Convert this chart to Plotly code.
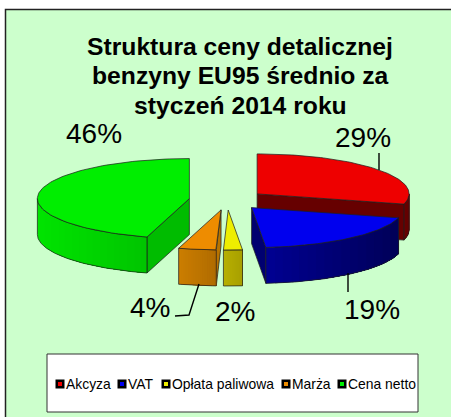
import numpy as np
import plotly.graph_objects as go

categories = ["Akcyza", "VAT", "Opłata paliwowa", "Marża", "Cena netto"]
values = [29.1, 19.4, 2.0, 4.0, 45.5]
top_colors = ["#EE0000", "#0000EE", "#EEEE00", "#EE8C00", "#00EE00"]
rim_left = [(0x66, 0, 0), (0, 0, 0x92), (0xB8, 0xB0, 0), (0xCC, 0x7E, 0), (0, 0xE4, 0)]
rim_right = [(0x66, 0, 0), (0, 0, 0x58), (0xA8, 0xA0, 0), (0xB0, 0x6C, 0), (0, 0xC4, 0)]
face_colors = ["#660000", "#000070", "#B0A800", "#B87400", "#00BC00"]
label_xy = [(362.5, 137.5), (372, 309), (235, 311), (150, 307), (93.5, 133)]
title_lines = ["Struktura ceny detalicznej", "benzyny EU95 średnio za", "styczeń 2014 roku"]
legend_x = [60, 122, 166, 286, 342]

CX, CY, RX, RY, EXPLODE, DEPTH = 227, 200, 152, 40, 0.25, 36
EDGE = "rgba(30,30,30,0.8)"

fig = go.Figure()


def point(ax, ay, deg):
    a = np.radians(deg)
    return ax + RX * np.sin(a), ay - RY * np.cos(a)


def poly(xs, ys, fill, line=EDGE, width=0.9):
    fig.add_trace(go.Scatter(
        x=list(xs) + [xs[0]], y=list(ys) + [ys[0]], mode="lines", fill="toself",
        fillcolor=fill, line=dict(color=line, width=width), hoverinfo="skip", showlegend=False))


total = sum(values)
edges = np.cumsum([0] + values) / total * 360
geom = []
for i in range(len(values)):
    start, end = edges[i], edges[i + 1]
    mid = np.radians((start + end) / 2)
    geom.append((CX + EXPLODE * RX * np.sin(mid), CY - EXPLODE * RY * np.cos(mid), start, end))

for i in [4, 0, 1, 3, 2]:
    ax, ay, start, end = geom[i]
    # radial side faces that look towards the viewer
    for ang, show in ((end, end <= 180), (start, start >= 180)):
        if show:
            px, py = point(ax, ay, ang)
            poly([ax, px, px, ax], [ay, py, py + DEPTH, ay + DEPTH], face_colors[i])
    # rim facing the viewer, shaded from left to right in strips with no seams
    lo, hi = max(start, 90), min(end, 270)
    if hi > lo:
        t = np.linspace(lo, hi, 121)
        rx, ry = point(ax, ay, t)
        xmin, xmax = rx.min(), rx.max()
        bands = 16
        for b in range(bands):
            # each band runs from its left limit to the right end, so later bands overpaint
            cut = xmin + (xmax - xmin) * b / bands
            keep = rx >= cut
            f = (b + 0.5) / bands
            c = [int(p + (q - p) * f) for p, q in zip(rim_left[i], rim_right[i])]
            col = f"rgb({c[0]},{c[1]},{c[2]})"
            sx, sy = rx[keep], ry[keep]
            if len(sx) > 1:
                poly(list(sx) + list(sx[::-1]), list(sy) + list(sy[::-1] + DEPTH), col,
                     line="rgba(0,0,0,0)", width=0)
        fig.add_trace(go.Scatter(
            x=list(rx) + list(rx[::-1]) + [rx[0]], y=list(ry) + list(ry[::-1] + DEPTH) + [ry[0]],
            mode="lines", line=dict(color=EDGE, width=0.9), hoverinfo="skip", showlegend=False))
    # top face
    t = np.linspace(start, end, 90)
    rx, ry = point(ax, ay, t)
    poly([ax] + list(rx), [ay] + list(ry), top_colors[i])

# leader lines, anchored on the wedge rims
leaders = [([379, 379], [153, 170]), ([348, 348], [273, 292]), ([199, 189, 175], [284, 315, 316])]
for lx, ly in leaders:
    fig.add_trace(go.Scatter(x=lx, y=ly, mode="lines", line=dict(color="black", width=1.4),
                             hoverinfo="skip", showlegend=False))

ann = []
for i, (lx, ly) in enumerate(label_xy):
    ann.append(dict(x=lx, y=ly, text=f"{round(values[i])}%", showarrow=False,
                    font=dict(size=28, color="black")))
for line, ly in zip(title_lines, [46, 75, 105]):
    ann.append(dict(x=240, y=ly, text=f"<b>{line}</b>", showarrow=False,
                    font=dict(size=24.7, color="black")))

# legend
for name, lx in zip(categories, legend_x):
    ann.append(dict(x=lx + 4, y=384, text=name, showarrow=False, xanchor="left",
                    font=dict(size=13.9, color="black")))
fig.add_trace(go.Scatter(
    x=legend_x, y=[384] * 5, mode="markers",
    marker=dict(symbol="square", size=6.5, color=top_colors, line=dict(color="black", width=2.5)),
    hoverinfo="skip", showlegend=False))

shapes = [
    dict(type="rect", x0=5.5, y0=9.5, x1=470, y1=440, line=dict(color="#222", width=1.5),
         fillcolor="#CCFFCC", layer="below"),
    dict(type="rect", x0=47, y0=354, x1=418, y1=412, line=dict(color="#333", width=1),
         fillcolor="white", layer="below"),
]

fig.update_layout(
    width=451, height=417, margin=dict(l=0, r=0, t=0, b=0), autosize=False,
    paper_bgcolor="white", plot_bgcolor="white", showlegend=False,
    font=dict(family="Liberation Sans, Arial, sans-serif"),
    xaxis=dict(range=[0, 451], visible=False, fixedrange=True),
    yaxis=dict(range=[417, 0], visible=False, fixedrange=True),
    annotations=ann, shapes=shapes,
)
fig.write_html("out.html", config={"displayModeBar": False},
               post_script="document.body.style.margin='0';document.documentElement.style.overflow='hidden';")
